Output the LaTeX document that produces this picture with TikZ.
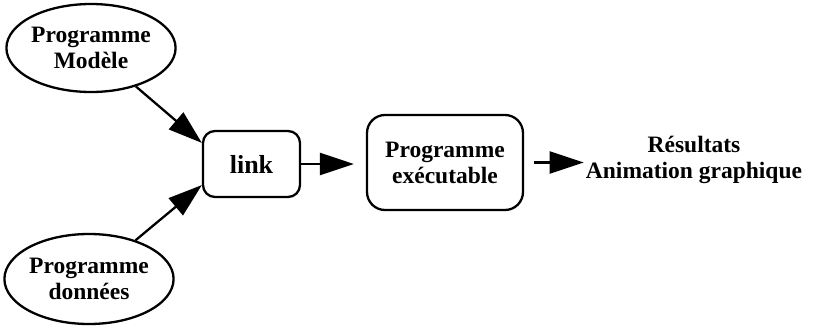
\documentclass[tikz,border=0pt]{standalone}
\usepackage{fontspec}
\setmainfont{Liberation Serif}
\usetikzlibrary{shapes.geometric,arrows.meta}
\begin{document}
\begin{tikzpicture}[x=1pt,y=-1pt,
  every node/.style={font=\bfseries\fontsize{23.5}{26}\selectfont, align=center, inner sep=0pt},
  ell/.style={draw, line width=2.3pt, ellipse},
  rbox/.style={draw, line width=2.3pt},
  arr/.style={line width=2.3pt, -{Triangle[length=34pt,width=22pt]}}]
\useasboundingbox (0,0) rectangle (817,327);
\node[ell, minimum width=168pt, minimum height=88pt] (mod) at (91,48) {Programme\\Modèle};
\node[ell, minimum width=162pt, minimum height=90pt] (don) at (89,279) {Programme\\données};
\node[rbox, rounded corners=12pt, minimum width=97pt, minimum height=66pt,
      font=\bfseries\fontsize{26}{28}\selectfont] (link) at (251.5,164) {link};
\node[rbox, rounded corners=18pt, minimum width=156pt, minimum height=95pt] (exe) at (445,162.5) {Programme\\exécutable};
\node (res) at (694,160) {Résultats\\Animation graphique};
\draw[arr] (mod) -- (link.157);
\draw[arr] (don) -- (link.203);
\draw[arr, shorten >=12pt] (link.east) -- (link.east -| exe.west);
\draw[arr, shorten <=10pt, shorten >=2pt] (exe.east) -- (exe.east -| res.west);
\end{tikzpicture}
\end{document}
